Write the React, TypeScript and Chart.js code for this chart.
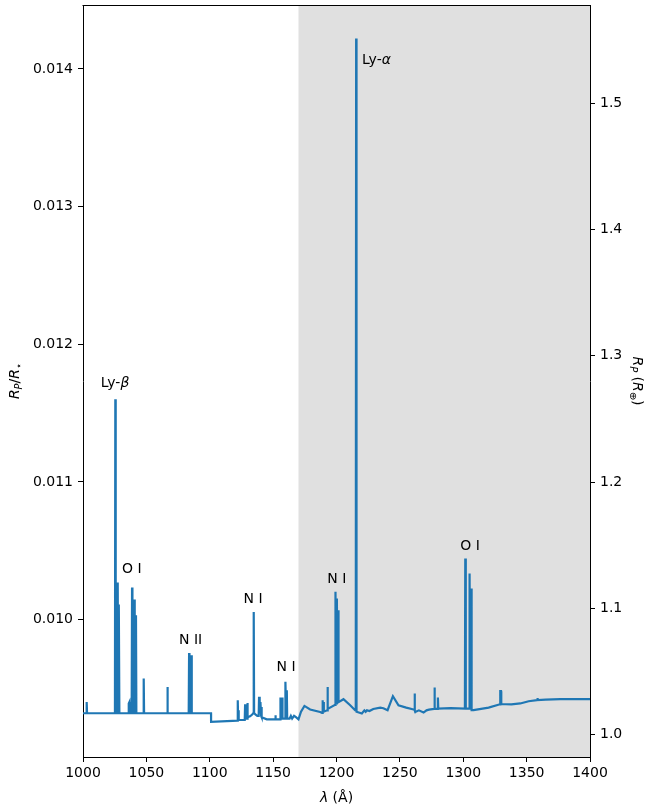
import React, { useEffect, useRef } from 'react';
import { Chart, registerables } from 'chart.js';

Chart.register(...registerables);

// Spectrum: wavelength (Å) and R_P/R_star
const wavelengths = [
  1000, 1002.6, 1002.9, 1003.2, 1025.2, 1025.5, 1025.8, 1027.1, 1027.4, 1027.7,
  1028.1, 1028.4, 1028.7, 1035.8, 1036.1, 1036.6, 1037.0, 1038.4, 1038.7, 1039.0,
  1040.2, 1040.5, 1040.8, 1041.5, 1041.8, 1042.1, 1047.6, 1047.9, 1048.2, 1066.3,
  1066.6, 1066.9, 1083.4, 1083.7, 1084.0, 1085.2, 1085.5, 1085.8, 1101.0, 1101.05,
  1118.0, 1121.8, 1122.1, 1122.4, 1122.7, 1123.0, 1127.6, 1127.9, 1128.5, 1129.4,
  1129.7, 1130.0, 1131.8, 1133.5, 1134.4, 1134.7, 1135.0, 1136.0, 1137.5, 1138.6,
  1138.9, 1139.4, 1140.0, 1140.5, 1140.8, 1141.1, 1145.0, 1151.5, 1151.8, 1152.1,
  1155.5, 1155.8, 1156.4, 1157.1, 1157.4, 1159.4, 1159.7, 1160.2, 1160.8, 1161.1,
  1163.0, 1164.0, 1165.0, 1166.5, 1168.0, 1170.0, 1172.0, 1174.7, 1179.2, 1187.1,
  1188.6, 1188.9, 1189.3, 1189.7, 1190.0, 1192.6, 1192.9, 1193.2, 1198.9, 1199.2,
  1199.8, 1200.3, 1200.8, 1201.3, 1201.6, 1205.5, 1210.8, 1214.7, 1215.2, 1215.5,
  1215.8, 1220.0, 1222.0, 1223.0, 1224.0, 1226.0, 1229.0, 1234.5, 1237.0, 1240.3,
  1244.5, 1248.9, 1255.0, 1260.8, 1261.3, 1261.6, 1261.9, 1262.1, 1265.0, 1268.7,
  1271.0, 1273.0, 1277.0, 1277.3, 1277.6, 1279.7, 1280.0, 1280.3, 1290.0, 1301.3,
  1301.6, 1302.0, 1304.7, 1305.0, 1305.5, 1306.0, 1306.3, 1306.6, 1308.1, 1320.0,
  1329.0, 1329.2, 1329.8, 1330.0, 1338.0, 1345.0, 1351.6, 1358.2, 1358.5, 1358.8,
  1365.0, 1376.6, 1400.0,
];
const rpRatio = [
  0.009319, 0.009319, 0.009401, 0.009319, 0.009319, 0.0116, 0.009319, 0.009319, 0.010269, 0.009319,
  0.009319, 0.010109, 0.009319, 0.009319, 0.00939, 0.0094, 0.009319, 0.009319, 0.010233, 0.009319,
  0.009319, 0.010145, 0.009319, 0.009319, 0.010031, 0.009319, 0.009319, 0.009571, 0.009319, 0.009319,
  0.00951, 0.009319, 0.009319, 0.009757, 0.009319, 0.009319, 0.00974, 0.009319, 0.009319, 0.009256,
  0.009263, 0.009265, 0.009414, 0.00927, 0.00934, 0.00927, 0.00927, 0.009384, 0.00928, 0.00928,
  0.009394, 0.00929, 0.009297, 0.00931, 0.00932, 0.010055, 0.00932, 0.00931, 0.0093, 0.0093,
  0.009438, 0.00935, 0.009401, 0.0093, 0.009365, 0.00929, 0.009275, 0.009275, 0.009304, 0.009275,
  0.009275, 0.009433, 0.00935, 0.009433, 0.00928, 0.00928, 0.009547, 0.00935, 0.009486, 0.00928,
  0.00928, 0.0093, 0.00928, 0.0093, 0.00929, 0.009275, 0.00933, 0.009372, 0.009346, 0.009328,
  0.009321, 0.009414, 0.00933, 0.009401, 0.00933, 0.00934, 0.00951, 0.00935, 0.00938, 0.010201,
  0.00939, 0.010153, 0.0094, 0.010068, 0.0094, 0.009421, 0.009377, 0.009341, 0.00934, 0.014222,
  0.00933, 0.009317, 0.00934, 0.00933, 0.009341, 0.009335, 0.00935, 0.00936, 0.009355, 0.009341,
  0.009443, 0.009377, 0.00936, 0.009346, 0.009346, 0.009462, 0.00934, 0.009328, 0.00934, 0.009324,
  0.00934, 0.009345, 0.00935, 0.009506, 0.00935, 0.00935, 0.009433, 0.009353, 0.009356, 0.009353,
  0.010443, 0.009353, 0.009353, 0.010334, 0.00935, 0.00935, 0.010225, 0.009341, 0.009341, 0.00936,
  0.009384, 0.009479, 0.009479, 0.009386, 0.009384, 0.00939, 0.009406, 0.009414, 0.00943, 0.009414,
  0.009418, 0.009421, 0.009421,
];

const xTicks = [1000, 1050, 1100, 1150, 1200, 1250, 1300, 1350, 1400];
const leftTicks = [0.010, 0.011, 0.012, 0.013, 0.014];
const rightTicks = [1.0, 1.1, 1.2, 1.3, 1.4, 1.5];

const lineLabels = ['Ly-β', 'O I', 'N II', 'N I', 'N I', 'N I', 'Ly-α', 'O I'];
const labelWl = [1025.3, 1038.5, 1084.9, 1134.2, 1160.2, 1200.2, 1220.2, 1305.4];
const labelVal = [0.011725, 0.010373, 0.009857, 0.010155, 0.009661, 0.010305, 0.014076, 0.010545];
const labelAlign = ['center', 'center', 'center', 'center', 'center', 'center', 'left', 'center'];

const shadeStart = 1170;
const shadeEnd = 1400;
const xMin = 1000;
const xMax = 1400;
const yMin = 0.009001;
const yMax = 0.014465;
const earthFactor = 109.1; // R_star in Earth radii

const FONT = '"DejaVu Sans", "Liberation Sans", sans-serif';
const FS = 14;

type Part = { t: string; it?: boolean; sub?: boolean };

function drawParts(ctx: CanvasRenderingContext2D, parts: Part[], x: number, y: number, align: string, size: number) {
  const fontOf = (p: Part) => `${p.it ? 'italic ' : ''}${p.sub ? size * 0.7 : size}px ${FONT}`;
  let w = 0;
  for (const p of parts) {
    ctx.font = fontOf(p);
    w += ctx.measureText(p.t).width;
  }
  let cx = align === 'center' ? x - w / 2 : align === 'left' ? x : x - w;
  ctx.textBaseline = 'alphabetic';
  ctx.textAlign = 'left';
  for (const p of parts) {
    ctx.font = fontOf(p);
    ctx.fillText(p.t, cx, y + (p.sub ? size * 0.22 : 0));
    cx += ctx.measureText(p.t).width;
  }
}

function splitGreek(s: string): Part[] {
  const parts: Part[] = [];
  for (const ch of s) {
    const it = /[α-ω]/.test(ch);
    const last = parts[parts.length - 1];
    if (last && !!last.it === it) last.t += ch;
    else parts.push({ t: ch, it });
  }
  return parts;
}

const decor = {
  id: 'decor',
  beforeDraw(chart: any) {
    const { ctx, chartArea: a, scales } = chart;
    const x0 = scales.x.getPixelForValue(shadeStart);
    const x1 = scales.x.getPixelForValue(shadeEnd);
    ctx.save();
    ctx.fillStyle = '#e0e0e0';
    ctx.fillRect(x0, a.top, x1 - x0, a.bottom - a.top);
    ctx.restore();
  },
  afterDraw(chart: any) {
    const { ctx, chartArea: a, scales } = chart;
    ctx.save();
    ctx.strokeStyle = '#000';
    ctx.lineWidth = 1;
    ctx.beginPath();
    ctx.moveTo(a.left - 0.5, Math.round(a.top) + 0.5);
    ctx.lineTo(a.right + 0.5, Math.round(a.top) + 0.5);
    ctx.stroke();

    ctx.fillStyle = '#000';
    for (let i = 0; i < lineLabels.length; i++) {
      const px = scales.x.getPixelForValue(labelWl[i]);
      const py = scales.y.getPixelForValue(labelVal[i]);
      drawParts(ctx, splitGreek(lineLabels[i]), px, py + FS * 0.365, labelAlign[i], FS);
    }

    // x title
    drawParts(ctx, [{ t: 'λ', it: true }, { t: ' (Å)' }], (a.left + a.right) / 2, 802, 'center', FS);

    // left title
    ctx.save();
    ctx.translate(19, (a.top + a.bottom) / 2);
    ctx.rotate(-Math.PI / 2);
    drawParts(ctx, [
      { t: 'R', it: true }, { t: 'P', it: true, sub: true }, { t: '/' },
      { t: 'R', it: true }, { t: '⋆', sub: true },
    ], 0, 0, 'center', FS);
    ctx.restore();

    // right title
    ctx.save();
    ctx.translate(633, (a.top + a.bottom) / 2);
    ctx.rotate(Math.PI / 2);
    drawParts(ctx, [
      { t: 'R', it: true }, { t: 'P', it: true, sub: true }, { t: ' (' },
      { t: 'R', it: true }, { t: '⊕', sub: true }, { t: ')' },
    ], 0, 0, 'center', FS);
    ctx.restore();
    ctx.restore();
  },
};

export default function App() {
  const ref = useRef<HTMLCanvasElement>(null);
  useEffect(() => {
    document.body.style.margin = '0';
    const canvas = ref.current!;
    const points = wavelengths.map((w, i) => ({ x: w, y: rpRatio[i] }));
    const axisCommon = {
      grid: { display: true, drawOnChartArea: false, drawTicks: true, tickLength: 5, color: '#000', lineWidth: 1 },
      border: { display: true, color: '#000', width: 1 },
    };
    const chart = new Chart(canvas, {
      type: 'line',
      data: {
        datasets: [
          {
            data: points,
            borderColor: '#1f77b4',
            borderWidth: 2.2,
            pointRadius: 0,
            tension: 0,
            fill: false,
            yAxisID: 'y',
          },
          {
            data: [],
            yAxisID: 'y1',
            pointRadius: 0,
          },
        ],
      },
      options: {
        animation: false,
        responsive: false,
        events: [],
        layout: { padding: { top: 5, left: 0, right: 0, bottom: 0 } },
        plugins: { legend: { display: false }, tooltip: { enabled: false } },
        scales: {
          x: {
            type: 'linear',
            min: xMin,
            max: xMax,
            ...axisCommon,
            ticks: { color: '#000', font: { family: FONT, size: FS }, padding: 3, maxRotation: 0, callback: (v: any) => String(v) },
            afterBuildTicks: (s: any) => { s.ticks = xTicks.map((v) => ({ value: v })); },
            afterFit: (s: any) => { s.height = 50; s.paddingLeft = 0; s.paddingRight = 0; },
          },
          y: {
            type: 'linear',
            position: 'left',
            min: yMin,
            max: yMax,
            ...axisCommon,
            ticks: { color: '#000', font: { family: FONT, size: FS }, padding: 5, callback: (v: any) => Number(v).toFixed(3) },
            afterBuildTicks: (s: any) => { s.ticks = leftTicks.map((v) => ({ value: v })); },
            afterFit: (s: any) => { s.width = 83; s.paddingTop = 0; s.paddingBottom = 0; },
          },
          y1: {
            type: 'linear',
            position: 'right',
            min: yMin * earthFactor,
            max: yMax * earthFactor,
            ...axisCommon,
            ticks: { color: '#000', font: { family: FONT, size: FS }, padding: 5, callback: (v: any) => Number(v).toFixed(1) },
            afterBuildTicks: (s: any) => { s.ticks = rightTicks.map((v) => ({ value: v })); },
            afterFit: (s: any) => { s.width = 56; s.paddingTop = 0; s.paddingBottom = 0; },
          },
        },
      } as any,
      plugins: [decor],
    });
    return () => chart.destroy();
  }, []);
  return (
    <div style={{ position: 'absolute', left: 0, top: 0, width: 646, height: 807 }}>
      <canvas ref={ref} width={646} height={807} style={{ display: 'block' }} />
    </div>
  );
}
